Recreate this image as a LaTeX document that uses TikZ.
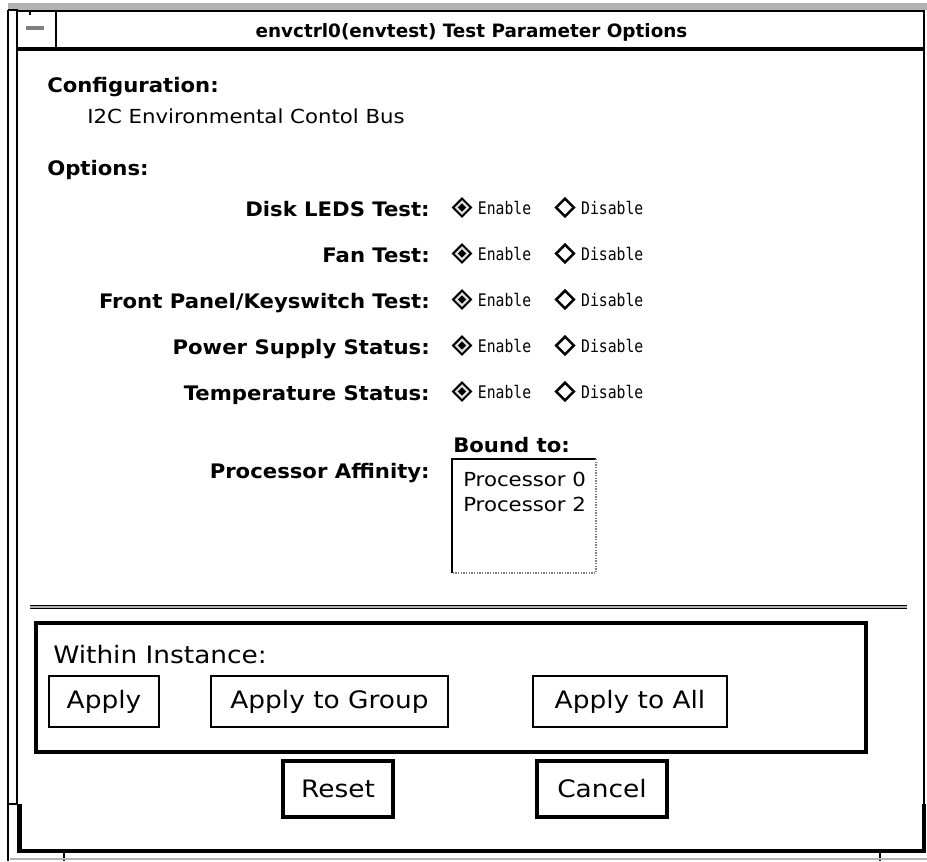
\documentclass[tikz,border=0pt]{standalone}
\usepackage{fontspec}
\setmainfont{DejaVu Sans}
\newfontfamily\lightfont[FakeStretch=1.1]{DejaVu Sans}
\newfontfamily\labelfont[FakeStretch=1.06]{DejaVu Sans}
\newfontfamily\radiofont[FakeStretch=0.85]{DejaVu Sans Mono}
\usetikzlibrary{positioning,shapes.geometric}

\begin{document}
\begin{tikzpicture}[x=0.75pt,y=0.75pt,yscale=-1,xscale=1,
    lbl/.style={anchor=base east,inner sep=0pt,font=\labelfont\bfseries\fontsize{15}{18}\selectfont},
    head/.style={anchor=base west,inner sep=0pt,font=\labelfont\bfseries\fontsize{15}{18}\selectfont},
    plain/.style={anchor=base west,inner sep=0pt,font=\lightfont\fontsize{14.5}{17}\selectfont},
    radioon/.style={diamond,draw,line width=1.5pt,fill=gray!25,minimum size=14pt,inner sep=0pt},
    radiodot/.style={diamond,fill,minimum size=6.5pt,inner sep=0pt},
    radiooff/.style={diamond,draw,line width=1.9pt,fill=white,minimum size=14pt,inner sep=0pt},
    radiotxt/.style={anchor=west,inner sep=0pt,font=\radiofont\fontsize{13}{15}\selectfont},
    btn/.style={draw,line width=1.1pt,minimum height=38.25pt,inner sep=0pt,font=\lightfont\fontsize{18}{21}\selectfont},
    bigbtn/.style={btn,line width=2.4pt,minimum height=42pt}
  ]
    \useasboundingbox (0,0) rectangle (927,861);

    %Shape: window frame
    \fill[gray!60] (8,3) rectangle (927,10);
    \draw[line width=2.2pt] (8,10) -- (8,861);
    \draw[line width=1.8pt] (8,10) -- (17,10) -- (17,804) -- (8,804);
    \draw[line width=1.8pt] (924,10) -- (924,804);
    \draw[line width=3.2pt] (19.5,804) -- (19.5,851) -- (924,851) -- (924,804);
    \draw[line width=1.6pt] (64,851) -- (64,861);
    \draw[line width=1.6pt] (880,851) -- (880,861);
    \draw[gray!60,line width=0.8pt] (10,859) -- (927,859);

    %Shape: title bar
    \draw[line width=0.8pt] (17,11) -- (924,11);
    \draw[line width=3pt] (17,49) -- (924,49);
    \draw[line width=1.2pt] (56,11) -- (56,47);
    \fill[gray] (26,26) rectangle (44,29.5);
    \draw[line width=1pt] (30,10) -- (30,15);
    % Text Node
    \node (title) [anchor=base,inner sep=0pt,font=\bfseries\fontsize{13.8}{16}\selectfont] at (471.5,37.5) {envctrl0(envtest) Test Parameter Options};

    % Text Node
    \node (cfg) [head] at (47,92) {Configuration:};
    \node (bus) [plain] at (87,123) {I2C Environmental Contol Bus};
    \node (opts) [head] at (47,175) {Options:};

    % Disk LEDS Test
    \node (dsk) [lbl] at (430,216) {Disk LEDS Test:};
    \node (dskon) [radioon] at (462,207.5) {};
    \node (dskdot) [radiodot] at (dskon) {};
    \node (dskena) [radiotxt,right=4pt of dskon] {Enable};
    \node (dskoff) [radiooff] at (565,207.5) {};
    \node (dskdis) [radiotxt,right=4pt of dskoff] {Disable};
    % Fan Test
    \node (fan) [lbl] at (430,262) {Fan Test:};
    \node (fanon) [radioon] at (462,253.5) {};
    \node (fandot) [radiodot] at (fanon) {};
    \node (fanena) [radiotxt,right=4pt of fanon] {Enable};
    \node (fanoff) [radiooff] at (565,253.5) {};
    \node (fandis) [radiotxt,right=4pt of fanoff] {Disable};
    % Front Panel/Keyswitch Test
    \node (fpk) [lbl] at (430,308) {Front Panel/Keyswitch Test:};
    \node (fpkon) [radioon] at (462,299.5) {};
    \node (fpkdot) [radiodot] at (fpkon) {};
    \node (fpkena) [radiotxt,right=4pt of fpkon] {Enable};
    \node (fpkoff) [radiooff] at (565,299.5) {};
    \node (fpkdis) [radiotxt,right=4pt of fpkoff] {Disable};
    % Power Supply Status
    \node (psu) [lbl] at (430,354) {Power Supply Status:};
    \node (psuon) [radioon] at (462,345.5) {};
    \node (psudot) [radiodot] at (psuon) {};
    \node (psuena) [radiotxt,right=4pt of psuon] {Enable};
    \node (psuoff) [radiooff] at (565,345.5) {};
    \node (psudis) [radiotxt,right=4pt of psuoff] {Disable};
    % Temperature Status
    \node (tmp) [lbl] at (430,400) {Temperature Status:};
    \node (tmpon) [radioon] at (462,391.5) {};
    \node (tmpdot) [radiodot] at (tmpon) {};
    \node (tmpena) [radiotxt,right=4pt of tmpon] {Enable};
    \node (tmpoff) [radiooff] at (565,391.5) {};
    \node (tmpdis) [radiotxt,right=4pt of tmpoff] {Disable};

    % Processor Affinity
    \node (bound) [head] at (453,452) {Bound to:};
    \node (aff) [lbl] at (430,478) {Processor Affinity:};
    \draw[line width=2.2pt] (452,573) -- (452,459) -- (596,459);
    \draw[gray,densely dotted,line width=1pt] (596,459) -- (596,573) -- (452,573);
    \node (cpu0) [plain] at (463,486) {Processor 0};
    \node (cpu2) [plain] at (463,511) {Processor 2};

    %Shape: separator
    \draw[double=gray!60,double distance=1.5pt,line width=0.9pt] (30,607) -- (907,607);

    %Shape: instance frame
    \draw[line width=2.6pt] (36,623) rectangle (866,752);
    \node (within) [anchor=base west,inner sep=0pt,font=\lightfont\fontsize{18}{21}\selectfont] at (53,663) {Within Instance:};
    \node (apply) [btn,minimum width=82.5pt] at (104,701.5) {Apply};
    \node (group) [btn,minimum width=177.75pt] at (329.5,701.5) {Apply to Group};
    \node (all) [btn,minimum width=145.5pt] at (630,701.5) {Apply to All};

    % Buttons
    \node (reset) [bigbtn,minimum width=82.5pt] at (338,789) {Reset};
    \node (cancel) [bigbtn,minimum width=97.5pt] at (602,789) {Cancel};
\end{tikzpicture}
\end{document}
